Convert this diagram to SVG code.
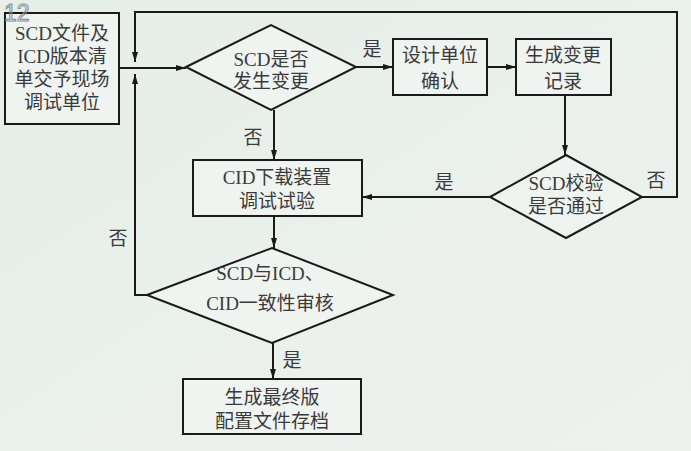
<svg xmlns="http://www.w3.org/2000/svg" width="691" height="451" viewBox="0 0 691 451">
<defs>
<marker id="arr" viewBox="0 0 10 6" refX="10" refY="3" markerWidth="10" markerHeight="6" markerUnits="userSpaceOnUse" orient="auto">
<path d="M0,0 L10,3 L0,6 Z" fill="#1a1a1a"/>
</marker>
<linearGradient id="bg" x1="0" y1="0" x2="1" y2="1">
<stop offset="0" stop-color="#e6eee9"/>
<stop offset="1" stop-color="#eef2ee"/>
</linearGradient>
</defs>
<style>
.n{fill:#f0f4f1;stroke:#1a1a1a;stroke-width:2}
.t{font-family:"Liberation Serif","Noto Sans CJK SC",serif;font-size:19px;fill:#3a3a3a;text-anchor:middle}
.c{fill:none;stroke:#1a1a1a;stroke-width:2}
.a{marker-end:url(#arr)}
</style>
<rect width="691" height="451" fill="url(#bg)"/>
<g id="connectors">
<path class="c a" d="M120,68 H186"/>
<path class="c a" d="M642,197 H677 V12 H135 V62"/>
<path class="c a" d="M147,295 H135 V74"/>
<path class="c a" d="M356,67 H393"/>
<path class="c a" d="M487,67 H516"/>
<path class="c a" d="M565,95 V155"/>
<path class="c a" d="M490,197 H362"/>
<path class="c a" d="M274,110 V160"/>
<path class="c a" d="M274,216 V248"/>
<path class="c a" d="M273,343 V379"/>
<text class="t" x="372" y="56">是</text>
<text class="t" x="253" y="144">否</text>
<text class="t" x="444" y="189">是</text>
<text class="t" x="656" y="187">否</text>
<text class="t" x="118" y="245">否</text>
<text class="t" x="292" y="367">是</text>
</g>
<g id="n1">
<rect class="n" x="5" y="13" width="114" height="111"/>
<text class="t" x="62" y="40">SCD文件及</text>
<text class="t" x="62" y="63">ICD版本清</text>
<text class="t" x="62" y="86">单交予现场</text>
<text class="t" x="62" y="109">调试单位</text>
</g>
<g id="n2">
<polygon class="n" points="186,67 271,25 356,67 271,110"/>
<text class="t" x="271" y="66">SCD是否</text>
<text class="t" x="271" y="88">发生变更</text>
</g>
<g id="n3">
<rect class="n" x="393" y="39" width="94" height="56"/>
<text class="t" x="440" y="62">设计单位</text>
<text class="t" x="440" y="88">确认</text>
</g>
<g id="n4">
<rect class="n" x="516" y="39" width="95" height="56"/>
<text class="t" x="563" y="62">生成变更</text>
<text class="t" x="563" y="88">记录</text>
</g>
<g id="n5">
<polygon class="n" points="490,197 566,155 642,197 566,238"/>
<text class="t" x="566" y="190">SCD校验</text>
<text class="t" x="566" y="213">是否通过</text>
</g>
<g id="n6">
<rect class="n" x="193" y="160" width="169" height="56"/>
<text class="t" x="277" y="184">CID下载装置</text>
<text class="t" x="277" y="208">调试试验</text>
</g>
<g id="n7">
<polygon class="n" points="147,295 272,248 393,295 272,343"/>
<text class="t" x="270" y="280">SCD与ICD、</text>
<text class="t" x="270" y="310">CID一致性审核</text>
</g>
<g id="n8">
<rect class="n" x="183" y="379" width="178" height="55"/>
<text class="t" x="272" y="404">生成最终版</text>
<text class="t" x="272" y="428">配置文件存档</text>
</g>
<text x="4" y="21" font-family="Liberation Sans, sans-serif" font-size="23" fill="none" stroke="#8a8a8a" stroke-width="1">12</text>
</svg>
